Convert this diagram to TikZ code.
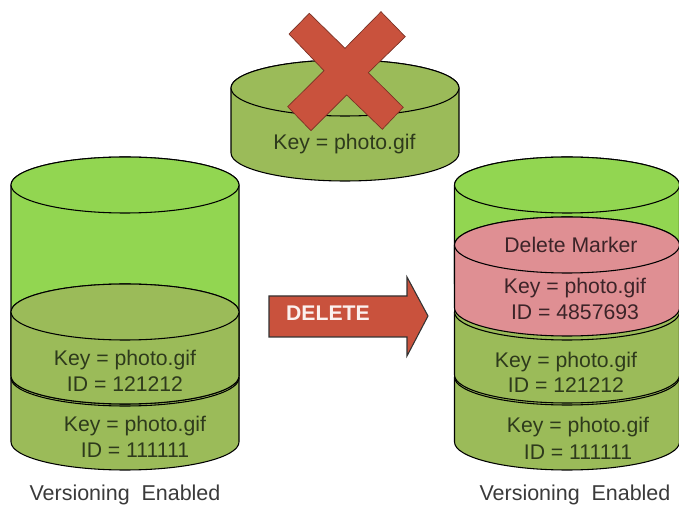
\documentclass[tikz,border=0pt]{standalone}
\usepackage{fontspec}
\setmainfont{Liberation Sans}
\definecolor{brightgreen}{HTML}{92D651}
\definecolor{olive}{HTML}{9BBB59}
\definecolor{markerpink}{HTML}{DF8F93}
\definecolor{crossred}{HTML}{C9523D}
\definecolor{labelink}{HTML}{2E3A1C}
\definecolor{pinkink}{HTML}{3C2428}
\definecolor{captionink}{HTML}{3A3A3A}
\tikzset{
  x=0.75pt, y=0.75pt,
  edge/.style={draw=black, line width=0.8pt, line join=round},
  label/.style={font=\fontsize{15.9}{15.9}\selectfont, text=labelink, inner sep=0pt, anchor=base},
  pinklabel/.style={label, text=pinkink},
  caption/.style={font=\fontsize{16.1}{16.1}\selectfont, text=captionink, inner sep=0pt, anchor=base},
  redshape/.style={fill=crossred, draw=crossred!60!black, line width=0.5pt, line join=miter}
}
% #1 cx, #2 rx, #3 ry, #4 y of top centre, #5 y of bottom side, #6 fill
\newcommand{\drumbody}[6]{%
  \path[edge, fill=#6] ({#1-#2},#4) -- ({#1-#2},#5)
    arc[start angle=180, end angle=360, x radius=#2, y radius=#3]
    -- ({#1+#2},#4)
    arc[start angle=0, end angle=180, x radius=#2, y radius=#3] -- cycle;}
\newcommand{\drumlid}[5]{%
  \path[edge, fill=#5] (#1,#4) ellipse[x radius=#2, y radius=#3];}
\begin{document}
\begin{tikzpicture}
\useasboundingbox (0,0) rectangle (679,504);
% left stack
\drumbody{125}{114}{28}{126}{62}{olive}
\drumlid{125}{114}{28}{126}{olive}
\drumbody{125}{114}{28}{319}{128}{brightgreen}
\drumbody{125}{114}{28}{192}{128}{olive}
\drumlid{125}{114}{28}{192}{olive}
\drumlid{125}{114}{28}{319}{brightgreen}
% right stack
\drumbody{567}{112.5}{28}{127}{62}{olive}
\drumlid{567}{112.5}{28}{127}{olive}
\drumbody{567}{112.5}{28}{192}{129}{olive}
\drumlid{567}{112.5}{28}{192}{olive}
\drumbody{567}{112.5}{28}{319}{220}{brightgreen}
\drumlid{567}{112.5}{28}{319}{brightgreen}
\drumbody{567}{112.5}{28}{259}{196}{markerpink}
\drumlid{567}{112.5}{28}{259}{markerpink}
% upper drum
\drumbody{345}{114}{28}{416}{351}{olive}
\drumlid{345}{114}{28}{416}{olive}
% cross
\path[redshape] (309.3,490.7) -- (345,455.7) -- (381,492.3) -- (405.3,467.3)
  -- (368.3,431.3) -- (403.3,396.7) -- (382.3,374.7) -- (346.7,409) -- (311,373.3)
  -- (287.7,397.3) -- (324,433.3) -- (289,470) -- cycle;
% arrow
\path[redshape, draw=black!80, line width=0.8pt] (269,208) -- (407,208) -- (407,227) -- (428,188)
  -- (407,148) -- (407,167) -- (269,167) -- cycle;
% texts
\node[font=\fontsize{15.9}{15.9}\selectfont\bfseries, text=white!92!crossred, inner sep=0pt, anchor=base] (del) at (328,183) {DELETE};
\node[label] (topkey) at (344.5,354) {Key = photo.gif};
\node[label] (lk2) at (125,138) {Key = photo.gif};
\node[label] (li2) at (125,112) {ID = 121212};
\node[label] (lk1) at (135,72) {Key = photo.gif};
\node[label] (li1) at (135,46) {ID = 111111};
\node[pinklabel] (dm) at (571,251) {Delete Marker};
\node[pinklabel] (pk) at (575,210) {Key = photo.gif};
\node[pinklabel] (pi) at (575,184) {ID = 4857693};
\node[label] (rk2) at (566,136) {Key = photo.gif};
\node[label] (ri2) at (566,111) {ID = 121212};
\node[label] (rk1) at (578,71) {Key = photo.gif};
\node[label] (ri1) at (578,45) {ID = 111111};
\node[caption] (lcap) at (125,4) {Versioning\hspace{0.55em}Enabled};
\node[caption] (rcap) at (575,4) {Versioning\hspace{0.55em}Enabled};
\end{tikzpicture}
\end{document}
